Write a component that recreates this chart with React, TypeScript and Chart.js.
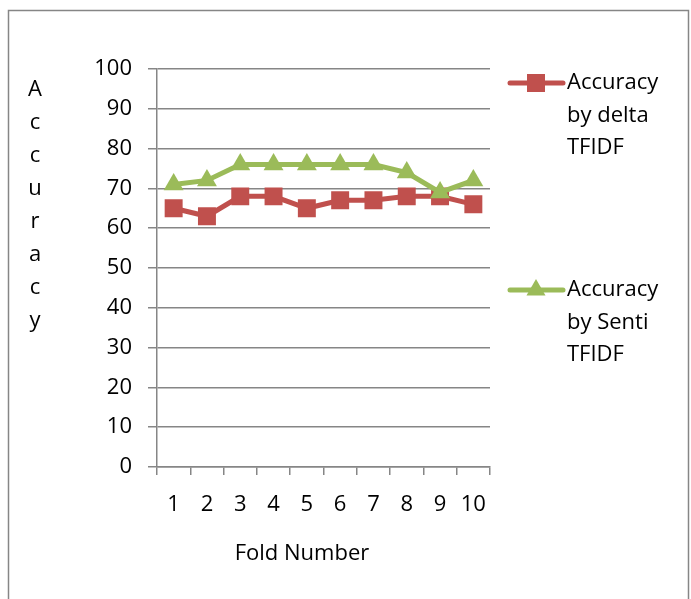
import React, { useEffect, useRef } from 'react';
import { Chart, registerables } from 'chart.js';

Chart.register(...registerables);

const folds = ['1', '2', '3', '4', '5', '6', '7', '8', '9', '10'];
const deltaAccuracy = [65, 63, 68, 68, 65, 67, 67, 68, 68, 66];
const sentiAccuracy = [71, 72, 76, 76, 76, 76, 76, 74, 69, 72];
const deltaLabel = ['Accuracy', 'by delta', 'TFIDF'];
const sentiLabel = ['Accuracy', 'by Senti', 'TFIDF'];
const yTitle = 'Accuracy';
const xTitle = 'Fold Number';

const RED = '#C0504D';
const GREEN = '#9BBB59';
const GRID = '#868686';
const FONT = "'Open Sans'";
const FS = 22;

function drawMarker(ctx: CanvasRenderingContext2D, kind: string, x: number, y: number, color: string) {
  ctx.fillStyle = color;
  ctx.beginPath();
  if (kind === 'rect') {
    ctx.rect(x - 9, y - 9, 18, 18);
  } else {
    const r = 11;
    for (let i = 0; i < 3; i++) {
      const a = (i * 2 * Math.PI) / 3;
      const px = x + Math.sin(a) * r;
      const py = y - Math.cos(a) * r;
      if (i === 0) ctx.moveTo(px, py);
      else ctx.lineTo(px, py);
    }
    ctx.closePath();
  }
  ctx.fill();
}

const decor = {
  id: 'decor',
  beforeDraw(chart: any) {
    const ctx = chart.ctx as CanvasRenderingContext2D;
    ctx.save();
    ctx.fillStyle = '#fff';
    ctx.fillRect(0, 0, chart.width, chart.height);
    ctx.strokeStyle = GRID;
    ctx.lineWidth = 1.5;
    ctx.strokeRect(8.5, 10.5, 680, 700);
    ctx.restore();
  },
  afterDraw(chart: any) {
    const ctx = chart.ctx as CanvasRenderingContext2D;
    const area = chart.chartArea;
    ctx.save();
    ctx.font = `${FS}px ${FONT}`;
    ctx.fillStyle = '#000';
    ctx.textAlign = 'center';
    ctx.textBaseline = 'middle';
    // vertical stacked y-axis title
    const letters = yTitle.split('');
    letters.forEach((ch, i) => {
      ctx.fillText(ch, 35, area.top + 21 + i * 33);
    });
    // x-axis title
    ctx.fillText(xTitle, 302, 554);

    // legend
    const items = [
      { label: deltaLabel, color: RED, kind: 'rect', y: 83 },
      { label: sentiLabel, color: GREEN, kind: 'triangle', y: 290 },
    ];
    items.forEach((it) => {
      ctx.strokeStyle = it.color;
      ctx.lineWidth = 5;
      ctx.lineCap = 'round';
      ctx.beginPath();
      ctx.moveTo(510, it.y);
      ctx.lineTo(563, it.y);
      ctx.stroke();
      drawMarker(ctx, it.kind, 536, it.y, it.color);
      ctx.fillStyle = '#000';
      ctx.textAlign = 'left';
      it.label.forEach((line, j) => {
        ctx.fillText(line, 567, it.y + j * 32.5);
      });
    });
    ctx.restore();
  },
};

export default function App() {
  const ref = useRef<HTMLCanvasElement | null>(null);

  useEffect(() => {
    if (!ref.current) return;
    const chart = new Chart(ref.current, {
      type: 'line',
      data: {
        labels: folds,
        datasets: [
          {
            label: deltaLabel.join(' '),
            data: deltaAccuracy,
            borderColor: RED,
            backgroundColor: RED,
            borderWidth: 5,
            pointStyle: 'rect',
            pointRadius: 12.7,
            pointBorderWidth: 0,
            order: 1,
          },
          {
            label: sentiLabel.join(' '),
            data: sentiAccuracy,
            borderColor: GREEN,
            backgroundColor: GREEN,
            borderWidth: 5,
            pointStyle: 'triangle',
            pointRadius: 11.5,
            pointBorderWidth: 0,
            order: 0,
          },
        ],
      },
      options: {
        responsive: false,
        animation: false,
        layout: { padding: { left: 0, top: 69, right: 201, bottom: 0 } },
        plugins: {
          legend: { display: false },
          tooltip: { enabled: false },
        },
        scales: {
          x: {
            type: 'category',
            offset: true,
            grid: {
              offset: true,
              drawOnChartArea: false,
              drawTicks: true,
              tickLength: 8,
              color: GRID,
              lineWidth: 1.5,
            },
            border: { color: GRID, width: 1.5 },
            ticks: {
              color: '#000',
              font: { family: FONT, size: FS },
              padding: 17,
              maxRotation: 0,
              autoSkip: false,
            },
            afterFit: (s: any) => {
              s.height = 132;
            },
          },
          y: {
            min: 0,
            max: 100,
            ticks: {
              stepSize: 10,
              color: '#000',
              font: { family: FONT, size: FS },
              padding: 16,
            },
            grid: { color: GRID, lineWidth: 1.5, tickLength: 9 },
            border: { color: GRID, width: 1.5 },
            afterFit: (s: any) => {
              s.width = 157;
            },
          },
        },
      },
      plugins: [decor],
    });
    return () => chart.destroy();
  }, []);

  return (
    <div style={{ position: 'fixed', left: 0, top: 0, width: 691, height: 599, background: '#fff' }}>
      <canvas ref={ref} width={691} height={599} />
    </div>
  );
}
